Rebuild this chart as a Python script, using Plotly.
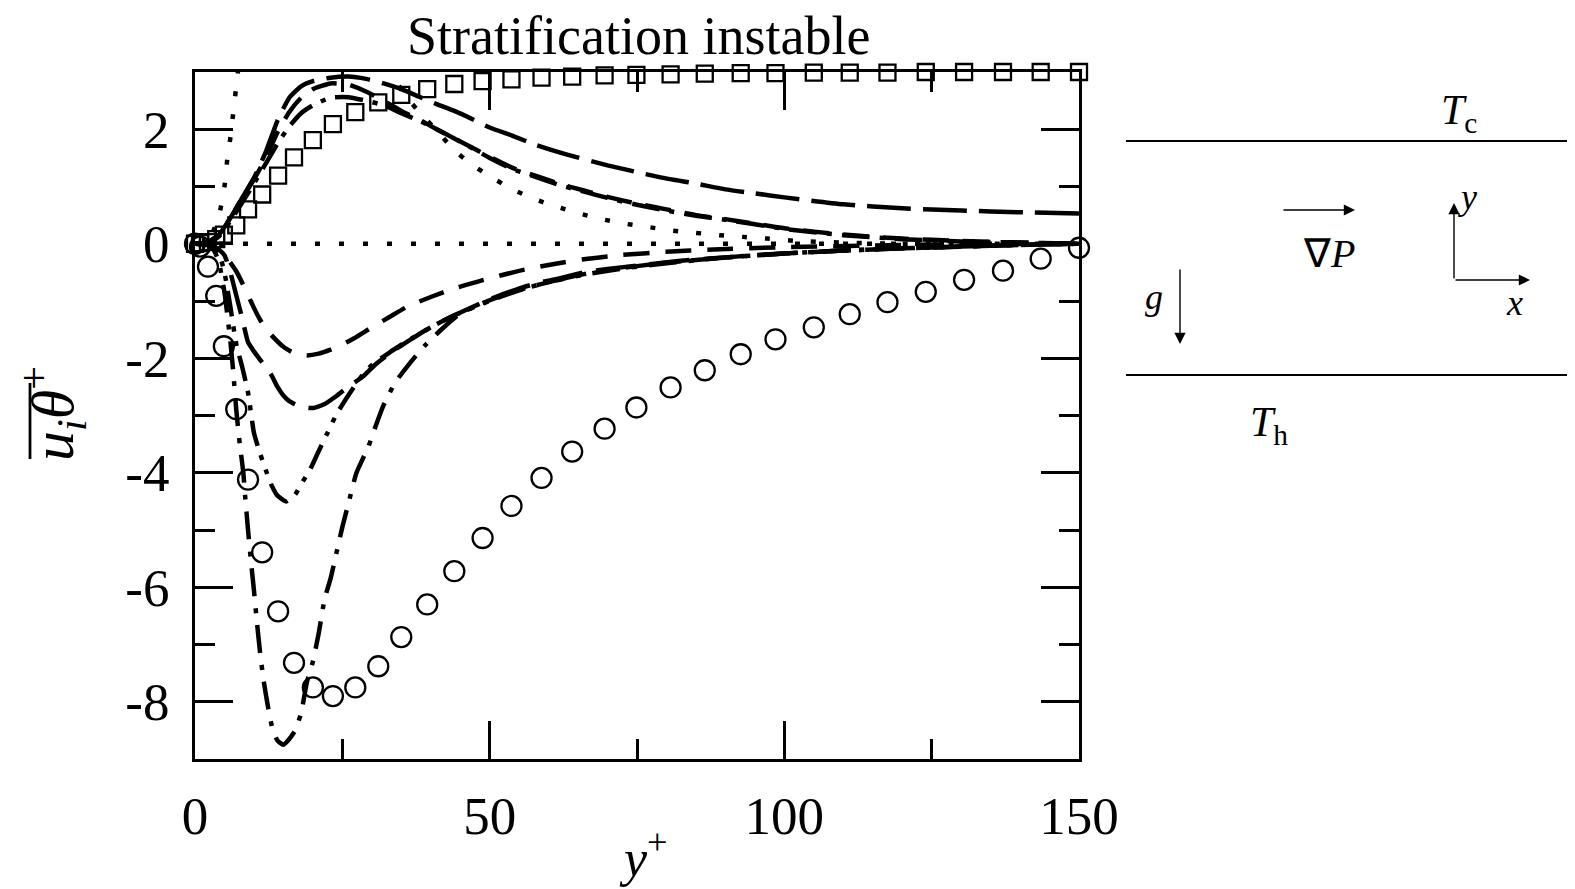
import plotly.graph_objects as go

# ---------------- data ----------------
# reference DNS points (same mesh for both)
x_ref = [0, 0.85, 2.2, 3.6, 4.9, 7.0, 9.0, 11.4, 14.1, 16.8, 20.0, 23.4, 27.2, 31.1,
         35.0, 39.4, 44.0, 48.8, 53.7, 58.8, 64.0, 69.5, 74.9, 80.7, 86.5, 92.6,
         98.5, 105.0, 111.1, 117.5, 124.0, 130.5, 137.1, 143.5, 150]
u_theta_ref = [0, 0.01, 0.03, 0.08, 0.16, 0.32, 0.6, 0.86, 1.19, 1.51, 1.81, 2.09, 2.3, 2.47,
               2.6, 2.7, 2.79, 2.84, 2.87, 2.9, 2.92, 2.94, 2.95, 2.96, 2.97, 2.98,
               2.98, 2.99, 2.99, 2.99, 3.0, 3.0, 3.0, 3.0, 3.0]
v_theta_ref = [0, -0.05, -0.40, -0.91, -1.79, -2.89, -4.12, -5.39, -6.42, -7.32, -7.75, -7.9,
               -7.75, -7.38, -6.87, -6.3, -5.72, -5.14, -4.58, -4.09, -3.63, -3.23, -2.86,
               -2.51, -2.21, -1.93, -1.67, -1.46, -1.23, -1.02, -0.84, -0.63, -0.47, -0.26, -0.07]

# positive (streamwise) model curves
p1_x = [0, 2, 4, 6, 8, 10, 12, 14, 16, 18, 20, 23, 26, 29, 32, 35, 38, 41, 44, 47, 50, 54, 58,
        63, 70, 79, 85, 90, 95, 100, 110, 120, 130, 140, 150]
p1_y = [0, 0.02, 0.15, 0.45, 0.8, 1.15, 1.6, 2.15, 2.55, 2.75, 2.84, 2.9, 2.92, 2.88, 2.8, 2.7,
        2.57, 2.44, 2.32, 2.18, 2.03, 1.88, 1.72, 1.56, 1.37, 1.16, 1.05, 0.95, 0.88, 0.81,
        0.69, 0.62, 0.58, 0.55, 0.53]
p2_x = [0, 2, 4, 6, 8, 10, 12, 14, 16, 18, 20, 23, 26, 29, 32, 35, 38, 41, 44, 47, 50, 54, 58,
        62, 66, 70, 75, 80, 85, 90, 95, 100, 110, 120, 130, 140, 150]
p2_y = [0, 0.02, 0.15, 0.45, 0.8, 1.12, 1.5, 1.95, 2.3, 2.55, 2.7, 2.8, 2.78, 2.66, 2.5, 2.32,
        2.17, 2.0, 1.84, 1.68, 1.52, 1.32, 1.18, 1.04, 0.93, 0.82, 0.7, 0.6, 0.5, 0.43, 0.35,
        0.27, 0.16, 0.09, 0.05, 0.02, 0.0]
p3_x = [0, 2, 4, 6, 8, 10, 12, 14, 16, 18, 20, 23, 26, 29, 32, 35, 38, 41, 44, 47, 50, 54, 58,
        62, 66, 70, 75, 80, 85, 90, 95, 100, 110, 120, 130, 140, 150]
p3_y = [0, 0.02, 0.12, 0.4, 0.72, 1.05, 1.4, 1.75, 2.05, 2.28, 2.42, 2.55, 2.56, 2.5, 2.42,
        2.28, 2.15, 2.0, 1.84, 1.67, 1.5, 1.3, 1.16, 1.02, 0.91, 0.8, 0.68, 0.58, 0.49, 0.42,
        0.34, 0.26, 0.15, 0.08, 0.04, 0.02, 0.0]
p4_x = [0, 2, 3, 4, 5, 5.5, 6, 6.5, 7, 7.5, 8, 10, 13, 16, 20, 25, 29, 32, 34, 36, 38.4, 41.3,
        43.8, 46.9, 50.3, 53.9, 57.6, 61.3, 65.2, 69, 73, 77, 81, 85, 89, 93, 97, 102, 110,
        120, 150]
p4_y = [0, 0.05, 0.2, 0.45, 1.0, 1.5, 1.85, 2.3, 2.75, 3.2, 3.6, 4.6, 5.3, 5.4, 5.0, 4.2, 3.6,
        3.2, 2.85, 2.55, 2.26, 1.95, 1.65, 1.39, 1.16, 0.95, 0.78, 0.65, 0.53, 0.43, 0.35,
        0.29, 0.23, 0.19, 0.15, 0.12, 0.09, 0.05, 0.02, 0.0, 0.0]

# negative (wall-normal) model curves
n1_x = [0, 2, 3, 4, 5, 6, 7, 8, 9, 10, 11, 12, 13, 15, 17, 19, 21, 23, 25, 27, 30, 33, 36, 40,
        44, 48, 52, 56, 60, 66, 72, 80, 88, 100, 115, 130, 150]
n1_y = [0, -0.01, -0.04, -0.1, -0.2, -0.33, -0.48, -0.68, -0.9, -1.12, -1.32, -1.48, -1.6,
        -1.8, -1.92, -1.95, -1.92, -1.85, -1.76, -1.65, -1.46, -1.28, -1.1, -0.93, -0.78,
        -0.66, -0.55, -0.45, -0.37, -0.27, -0.2, -0.14, -0.1, -0.06, -0.03, -0.01, 0]
n2_x = [0, 2, 3, 4, 5, 6, 7, 8, 9, 10, 11, 12, 13, 14, 15, 16, 18, 20, 22, 24, 26, 28.5, 30.7,
        33.5, 36.5, 39, 42, 45.5, 48.5, 51, 54.5, 58, 62, 66, 70, 76, 82, 88.5, 95, 100, 110,
        120, 130, 140, 150]
n2_y = [0, -0.01, -0.04, -0.1, -0.2, -0.5, -0.9, -1.3, -1.72, -1.88, -2.02, -2.15, -2.3, -2.5,
        -2.65, -2.75, -2.85, -2.87, -2.8, -2.66, -2.5, -2.32, -2.1, -1.88, -1.68, -1.52,
        -1.35, -1.18, -1.04, -0.93, -0.8, -0.69, -0.6, -0.5, -0.44, -0.37, -0.3, -0.25, -0.2,
        -0.17, -0.12, -0.08, -0.05, -0.02, 0]
n3_x = [0, 2, 3, 4, 5, 6, 7, 8, 9, 10, 11, 12, 13, 14, 15.5, 17, 18, 19.5, 21, 22.5, 24, 26,
        28, 30, 33, 36, 40, 44, 48, 52, 56, 60, 66, 72, 80, 90, 100, 110, 120, 130, 140, 150]
n3_y = [0, -0.01, -0.05, -0.15, -0.5, -1.1, -1.75, -2.15, -2.6, -3.3, -3.65, -3.95, -4.22,
        -4.4, -4.5, -4.38, -4.2, -3.95, -3.62, -3.3, -2.98, -2.65, -2.35, -2.12, -1.9, -1.7,
        -1.46, -1.25, -1.08, -0.92, -0.78, -0.67, -0.53, -0.43, -0.33, -0.24, -0.17, -0.12,
        -0.08, -0.05, -0.02, 0]
n4_x = [0, 2, 3, 4, 5, 6, 6.5, 7, 7.6, 8.2, 8.5, 9, 9.5, 10, 10.5, 11, 11.6, 12.4, 13.1, 14,
        15, 16, 17, 18, 19, 20, 21, 22, 23, 24, 25, 26, 27.4, 29.4, 30.6, 32, 34, 36.5, 39,
        42, 45, 48, 52, 56, 60, 66, 72, 80, 90, 100, 110, 120, 130, 140, 150]
n4_y = [0, -0.02, -0.08, -0.3, -0.85, -1.7, -2.25, -2.9, -3.5, -4.0, -4.4, -5.0, -5.55, -6.05,
        -6.6, -7.1, -7.6, -8.1, -8.45, -8.68, -8.75, -8.65, -8.5, -8.2, -7.65, -7.3, -6.8,
        -6.2, -5.85, -5.4, -4.95, -4.55, -4.0, -3.55, -3.2, -2.82, -2.42, -2.08, -1.78,
        -1.48, -1.22, -1.07, -0.91, -0.78, -0.67, -0.54, -0.44, -0.34, -0.24, -0.17, -0.12,
        -0.08, -0.05, -0.02, 0]
zero_x = [0, 150]
zero_y = [0, 0]

x_ticks = [0, 50, 100, 150]
x_ticktext = ["0", "50", "100", "150"]
y_ticks = [-8, -6, -4, -2, 0, 2]
y_ticktext = ["-8", "-6", "-4", "-2", "0", "2"]

# ---------------- figure ----------------
# The page body has a small margin: the figure is made smaller by it and every
# page-pixel position below is converted to figure coordinates.
OFFX, OFFY = 5, 6
W, H = 1575 - OFFX, 889 - OFFY
L, R, T, B = 192, 1076, 70, 757          # plot area, page pixels


def px(x):
    return (x - L) / (R - L)


def py(y):
    return (B - y) / (B - T)


FONT = "Liberation Serif"
LW = 4.5

fig = go.Figure()


def add_line(x, y, dash):
    fig.add_trace(go.Scatter(x=x, y=y, mode="lines",
                             line=dict(color="black", width=LW, dash=dash,
                                       shape="spline", smoothing=0.5),
                             showlegend=False, hoverinfo="skip"))


add_line(zero_x, zero_y, "5px,19px")
add_line(p1_x, p1_y, "44px,12px")
add_line(p2_x, p2_y, "26px,14px")
add_line(p3_x, p3_y, "28px,10px,5px,10px")
add_line(p4_x, p4_y, "5px,18px")
add_line(n1_x, n1_y, "26px,16px")
add_line(n2_x, n2_y, "40px,14px")
add_line(n3_x, n3_y, "26px,10px,5px,10px,5px,10px")
add_line(n4_x, n4_y, "28px,12px,5px,12px")

fig.add_trace(go.Scatter(x=x_ref, y=u_theta_ref, mode="markers", cliponaxis=False,
                         marker=dict(symbol="square-open", size=16, color="black",
                                     line=dict(width=2.3, color="black")),
                         showlegend=False))
fig.add_trace(go.Scatter(x=x_ref, y=v_theta_ref, mode="markers", cliponaxis=False,
                         marker=dict(symbol="circle-open", size=20, color="black",
                                     line=dict(width=2.3, color="black")),
                         showlegend=False))

axis_common = dict(showline=True, linecolor="black", linewidth=3, mirror="allticks",
                   ticks="inside", ticklen=38, tickwidth=2.5, tickcolor="black",
                   showgrid=False, zeroline=False,
                   tickfont=dict(family=FONT, size=53, color="black"))

fig.update_xaxes(range=[0, 150], tickvals=x_ticks, ticktext=x_ticktext,
                 ticklabelstandoff=8,
                 minor=dict(ticks="inside", ticklen=20, tickwidth=2.5, tickcolor="black",
                            tickvals=[25, 75, 125], showgrid=False),
                 **axis_common)
fig.update_yaxes(range=[-9, 3], tickvals=y_ticks, ticktext=y_ticktext,
                 ticklabelstandoff=12,
                 minor=dict(ticks="inside", ticklen=20, tickwidth=2.5, tickcolor="black",
                            tickvals=[-9, -7, -5, -3, -1, 1, 3], showgrid=False),
                 **axis_common)

ann = []


def text(xp, yp, s, size, **kw):
    ann.append(dict(x=px(xp), y=py(yp), xref="paper", yref="paper", text=s,
                    showarrow=False, font=dict(family=FONT, size=size, color="black"),
                    xanchor="center", yanchor="middle", **kw))


def arrow(x_head, y_head, x_tail, y_tail):
    ann.append(dict(x=px(x_head), y=py(y_head), xref="paper", yref="paper",
                    ax=x_tail - x_head, ay=y_tail - y_head, text="", showarrow=True,
                    arrowhead=2, arrowsize=1.6, arrowwidth=1.4, arrowcolor="black"))


text(635, 34, "Stratification instable", 54)
text(640, 853, "<i>y</i><sup>+</sup>", 52)
text(50, 412, "<i>u<sub>i</sub>θ</i><sup>+</sup>", 60, textangle=-90)
text(1456, 111, "<i>T</i><sub>c</sub>", 42)
text(1266, 423, "<i>T</i><sub>h</sub>", 42)
text(1326, 251, "∇<i>P</i>", 40)
text(1151, 295, "<i>g</i>", 36)
text(1464, 195, "<i>y</i>", 36)
text(1511, 301, "<i>x</i>", 36)

arrow(1352, 208, 1279, 208)
arrow(1177, 342, 1177, 266)
arrow(1451, 201, 1451, 278)
arrow(1527, 278, 1451, 278)

shapes = [
    dict(type="line", xref="paper", yref="paper", x0=px(1123), x1=px(1580),
         y0=py(139), y1=py(139), line=dict(color="black", width=2)),
    dict(type="line", xref="paper", yref="paper", x0=px(1123), x1=px(1580),
         y0=py(373), y1=py(373), line=dict(color="black", width=2)),
    dict(type="line", xref="paper", yref="paper", x0=px(27), x1=px(27),
         y0=py(381), y1=py(457), line=dict(color="black", width=2.8)),
]

fig.update_layout(width=W, height=H,
                  margin=dict(l=L - OFFX, r=W - (R - OFFX), t=T - OFFY, b=H - (B - OFFY)),
                  plot_bgcolor="white", paper_bgcolor="white",
                  annotations=ann, shapes=shapes, showlegend=False)

fig.write_html("out.html")
